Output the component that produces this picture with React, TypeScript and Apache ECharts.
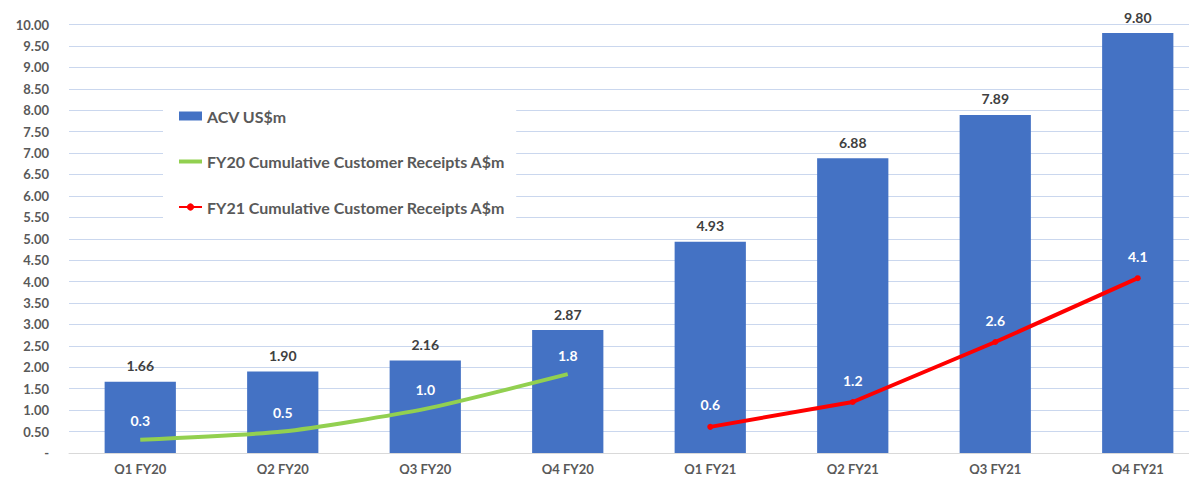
import React, { useEffect, useRef } from "react";
import * as echarts from "echarts";

const categories = ["Q1 FY20", "Q2 FY20", "Q3 FY20", "Q4 FY20", "Q1 FY21", "Q2 FY21", "Q3 FY21", "Q4 FY21"];
const acv = [1.66, 1.9, 2.16, 2.87, 4.93, 6.88, 7.89, 9.8];
const fy20Receipts = [0.31, 0.5, 1.03, 1.84, null, null, null, null];
const fy21Receipts = [null, null, null, null, 0.61, 1.19, 2.59, 4.08];

const FONT = "Lato, 'Open Sans', sans-serif";

export default function App() {
  const ref = useRef<HTMLDivElement>(null);
  useEffect(() => {
    if (!ref.current) return;
    const chart = echarts.init(ref.current, null, { renderer: "svg" });
    chart.setOption({
      animation: false,
      backgroundColor: "#ffffff",
      textStyle: { fontFamily: FONT },
      grid: { left: 69, top: 24.5, width: 1140, height: 428.5, containLabel: false },
      legend: {
        orient: "vertical",
        left: 163,
        top: 100,
        padding: [8, 11, 8, 15],
        backgroundColor: "#ffffff",
        itemGap: 29.5,
        itemWidth: 23,
        itemHeight: 9,
        textStyle: { fontFamily: FONT, fontSize: 16, fontWeight: "bold", color: "#595959" },
        data: [
          { name: "ACV US$m", icon: "rect" },
          { name: "FY20 Cumulative Customer Receipts A$m", icon: "path://M0,0 L23,0 L23,4 L0,4 Z" },
          { name: "FY21 Cumulative Customer Receipts A$m" },
        ],
      },
      xAxis: {
        type: "category",
        data: categories,
        axisLine: { lineStyle: { color: "#d9d9d9", width: 1 } },
        axisTick: { show: false },
        axisLabel: { fontFamily: FONT, fontSize: 13, fontWeight: "bold", color: "#595959", margin: 9 },
      },
      yAxis: {
        type: "value",
        min: 0,
        max: 10,
        interval: 0.5,
        axisLine: { show: false },
        axisTick: { show: false },
        splitLine: { lineStyle: { color: "#cad7ee", width: 1 } },
        axisLabel: {
          fontFamily: FONT,
          fontSize: 13,
          fontWeight: "bold",
          color: "#595959",
          margin: 20,
          formatter: (v: number) => (v === 0 ? "-" : v.toFixed(2)),
        },
      },
      series: [
        {
          name: "ACV US$m",
          type: "bar",
          data: acv,
          barWidth: "50%",
          itemStyle: { color: "#4472C4" },
          label: {
            show: true,
            position: "top",
            distance: 9,
            fontFamily: FONT,
            fontSize: 14,
            fontWeight: "bold",
            color: "#404040",
            formatter: (p: any) => Number(p.value).toFixed(2),
          },
          z: 1,
        },
        {
          name: "FY20 Cumulative Customer Receipts A$m",
          type: "line",
          data: fy20Receipts,
          smooth: 0.2,
          symbol: "circle",
          symbolSize: 0.1,
          lineStyle: { color: "#92D050", width: 4 },
          itemStyle: { color: "#92D050" },
          label: {
            show: true,
            position: "top",
            distance: 12,
            fontFamily: FONT,
            fontSize: 14,
            fontWeight: "bold",
            color: "#ffffff",
            formatter: (p: any) => Number(p.value).toFixed(1),
          },
          z: 3,
        },
        {
          name: "FY21 Cumulative Customer Receipts A$m",
          type: "line",
          data: fy21Receipts,
          symbol: "circle",
          symbolSize: 6,
          lineStyle: { color: "#FF0000", width: 4 },
          itemStyle: { color: "#FF0000" },
          label: {
            show: true,
            position: "top",
            distance: 12,
            fontFamily: FONT,
            fontSize: 14,
            fontWeight: "bold",
            color: "#ffffff",
            formatter: (p: any) => Number(p.value).toFixed(1),
          },
          z: 3,
        },
      ],
    });
    return () => chart.dispose();
  }, []);
  return (
    <div style={{ width: 1197, height: 482, margin: -8, overflow: "hidden", position: "relative" }}>
      <div ref={ref} style={{ width: 1220, height: 482 }} />
    </div>
  );
}
